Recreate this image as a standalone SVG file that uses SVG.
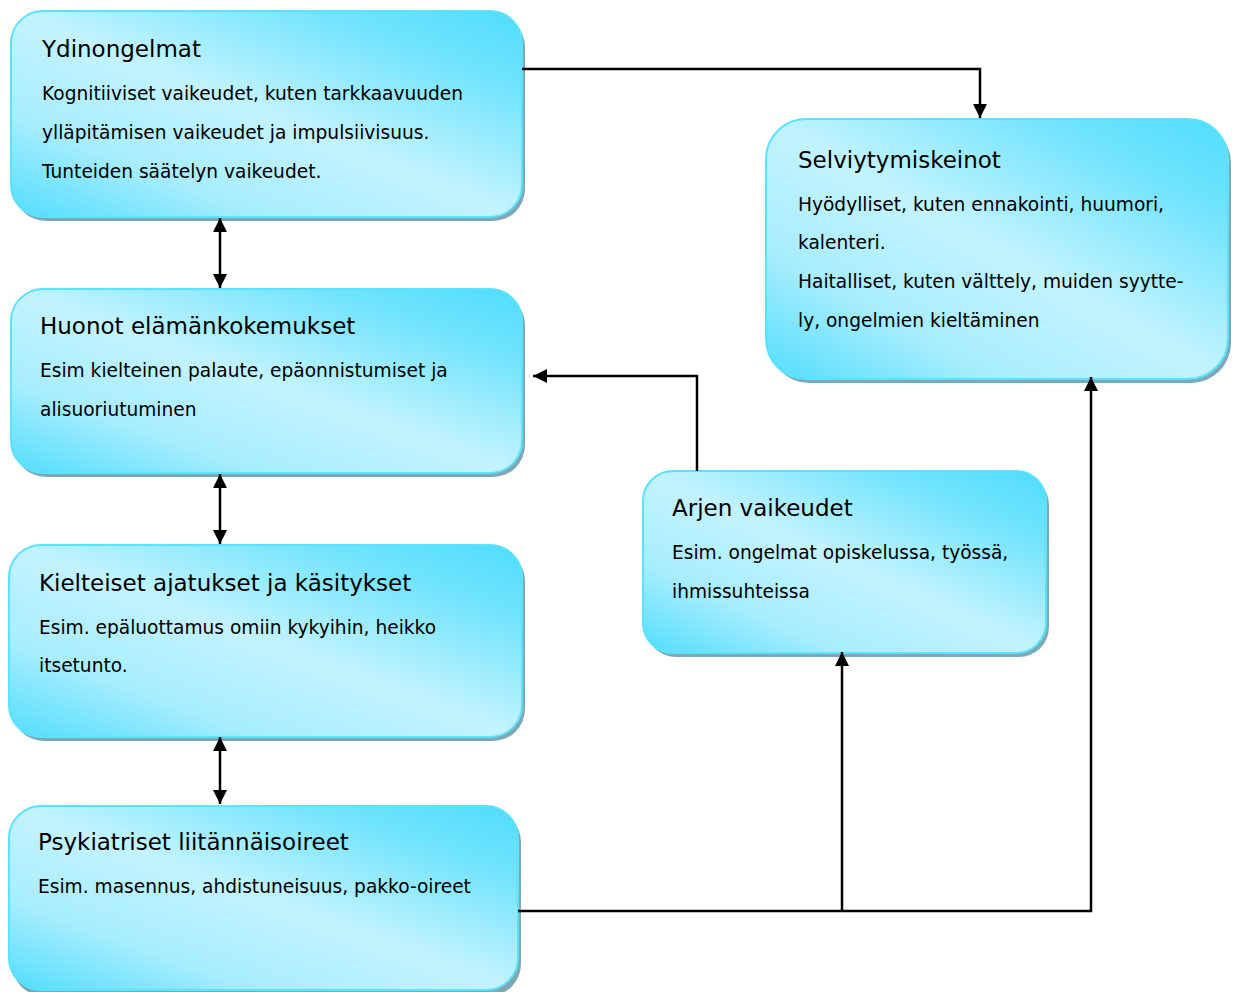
<svg xmlns="http://www.w3.org/2000/svg" width="1235" height="992" viewBox="0 0 1235 992">
<defs>
<linearGradient id="g" x1="1" y1="0" x2="0" y2="1">
<stop offset="0" stop-color="#4fdcfd"/>
<stop offset="0.2" stop-color="#72e4fd"/>
<stop offset="0.5" stop-color="#c3f3ff"/>
<stop offset="0.75" stop-color="#a8edfe"/>
<stop offset="1" stop-color="#52ddfd"/>
</linearGradient>
<marker id="ah" viewBox="0 0 10 10" refX="10" refY="5" markerWidth="5.6" markerHeight="6" markerUnits="strokeWidth" orient="auto-start-reverse">
<path d="M0,0 L10,5 L0,10 z" fill="#000"/>
</marker>
<style>
.sh{fill:#7ea9b4}
.bx{fill:url(#g);stroke:#5ae2ff;stroke-width:2}
.t{font-family:"DejaVu Sans","Verdana",sans-serif;font-size:23px;fill:#000}
.b{font-family:"DejaVu Sans","Verdana",sans-serif;font-size:18.6px;fill:#000}
.c{fill:none;stroke:#000;stroke-width:2.5}
</style>
</defs>
<g id="n1">
<rect class="sh" x="14" y="15" width="511" height="206" rx="32"/>
<rect class="bx" x="11" y="11" width="511" height="206" rx="32"/>
<text class="t" x="42" y="57">Ydinongelmat</text>
<text class="b" x="42" y="100">Kognitiiviset vaikeudet, kuten tarkkaavuuden</text>
<text class="b" x="42" y="139">ylläpitämisen vaikeudet ja impulsiivisuus.</text>
<text class="b" x="42" y="178">Tunteiden säätelyn vaikeudet.</text>
</g>
<g id="n2">
<rect class="sh" x="14" y="293" width="511" height="184" rx="32"/>
<rect class="bx" x="11" y="289" width="511" height="184" rx="32"/>
<text class="t" x="40" y="334">Huonot elämänkokemukset</text>
<text class="b" x="40" y="377">Esim kielteinen palaute, epäonnistumiset ja</text>
<text class="b" x="40" y="416">alisuoriutuminen</text>
</g>
<g id="n3">
<rect class="sh" x="12" y="549" width="513" height="192" rx="32"/>
<rect class="bx" x="9" y="545" width="513" height="192" rx="32"/>
<text class="t" x="39" y="591">Kielteiset ajatukset ja käsitykset</text>
<text class="b" x="39" y="634">Esim. epäluottamus omiin kykyihin, heikko</text>
<text class="b" x="39" y="672">itsetunto.</text>
</g>
<g id="n4">
<rect class="sh" x="12" y="810" width="509" height="186" rx="32"/>
<rect class="bx" x="9" y="806" width="509" height="184" rx="32"/>
<text class="t" x="38" y="850">Psykiatriset liitännäisoireet</text>
<text class="b" x="38" y="893">Esim. masennus, ahdistuneisuus, pakko-oireet</text>
</g>
<g id="n5">
<rect class="sh" x="769" y="123" width="462" height="260" rx="40"/>
<rect class="bx" x="766" y="119" width="462" height="260" rx="40"/>
<text class="t" x="798" y="168">Selviytymiskeinot</text>
<text class="b" x="798" y="211">Hyödylliset, kuten ennakointi, huumori,</text>
<text class="b" x="798" y="249">kalenteri.</text>
<text class="b" x="798" y="288">Haitalliset, kuten välttely, muiden syytte-</text>
<text class="b" x="798" y="327">ly, ongelmien kieltäminen</text>
</g>
<g id="n6">
<rect class="sh" x="646" y="475" width="403" height="182" rx="30"/>
<rect class="bx" x="643" y="471" width="403" height="182" rx="30"/>
<text class="t" x="672" y="516">Arjen vaikeudet</text>
<text class="b" x="672" y="559">Esim. ongelmat opiskelussa, työssä,</text>
<text class="b" x="672" y="598">ihmissuhteissa</text>
</g>
<g id="connectors">
<polyline class="c" points="522,69 980,69 980,118" marker-end="url(#ah)"/>
<line class="c" x1="220" y1="218" x2="220" y2="288" marker-start="url(#ah)" marker-end="url(#ah)"/>
<line class="c" x1="220" y1="474" x2="220" y2="544" marker-start="url(#ah)" marker-end="url(#ah)"/>
<line class="c" x1="220" y1="737" x2="220" y2="804" marker-start="url(#ah)" marker-end="url(#ah)"/>
<polyline class="c" points="697,471 697,376 533,376" marker-end="url(#ah)"/>
<polyline class="c" points="518,911 1091,911 1091,377" marker-end="url(#ah)"/>
<polyline class="c" points="842,911 842,652" marker-end="url(#ah)"/>
</g>
</svg>
